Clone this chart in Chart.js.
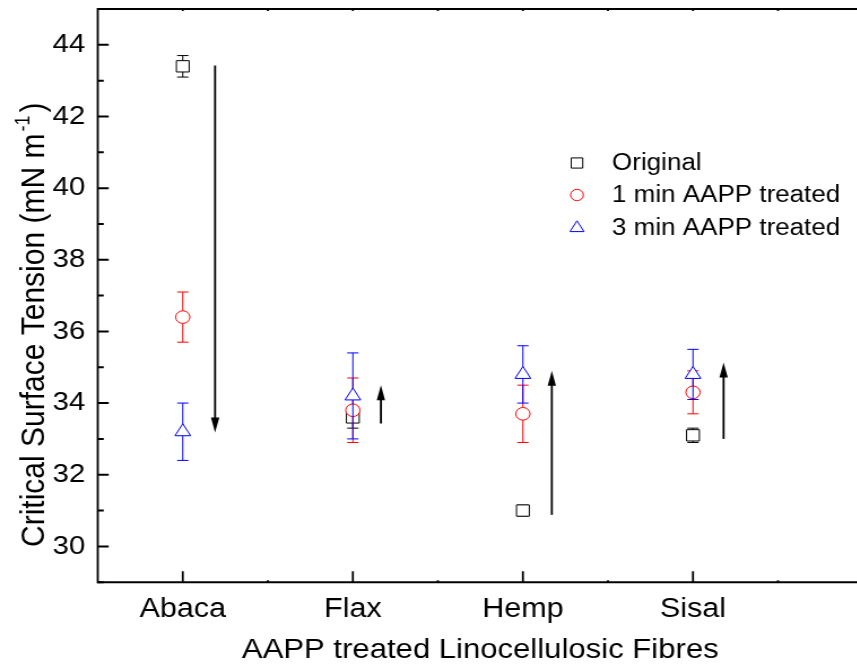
<!DOCTYPE html>
<html>
<head>
<meta charset="utf-8">
<script src="https://cdn.jsdelivr.net/npm/chart.js@4/dist/chart.umd.min.js"></script>
<style>
  html, body { margin: 0; padding: 0; overflow: hidden; background: #fff; }
  /* the source picture is stretched sideways, so is the canvas */
  #chart { transform: scaleX(1.13); transform-origin: 0 0; display: block; }
</style>
</head>
<body>
<canvas id="chart" width="860" height="666"></canvas>
<script>
const categories = ['Abaca', 'Flax', 'Hemp', 'Sisal'];
const seriesNames = ['Original', '1 min AAPP treated', '3 min AAPP treated'];

const original = [43.4, 33.6, 31.0, 33.1];
const originalErr = [0.3, 0.3, 0.15, 0.2];
const oneMin = [36.4, 33.8, 33.7, 34.3];
const oneMinErr = [0.7, 0.9, 0.8, 0.6];
const threeMin = [33.2, 34.2, 34.8, 34.8];
const threeMinErr = [0.8, 1.2, 0.8, 0.7];

// arrows: x position (category units), start and end value
const arrowX = [1.19, 2.165, 3.17, 4.18];
const arrowFrom = [43.42, 33.43, 30.88, 33.0];
const arrowTo = [33.18, 34.5, 34.9, 35.13];

const yTicks = [30, 32, 34, 36, 38, 40, 42, 44];
const yMinorTicks = [29, 31, 33, 35, 37, 39, 41, 43, 45];
const xMinorTicks = [1.5, 2.5, 3.5, 4.5];

const FONT = '"Liberation Sans", Arial, sans-serif';

function toPoints(values) {
    return values.map((v, i) => ({ x: i + 1, y: v }));
}

const styles = [
    { pointStyle: 'rect', radius: 8, color: '#000000' },
    { pointStyle: 'circle', radius: 6.3, color: '#ff0000' },
    { pointStyle: 'triangle', radius: 8, color: '#0000ff' },
];

const decorations = {
    id: 'decorations',
    beforeDatasetDraw(chart, args) {
        const ds = chart.data.datasets[args.index];
        const { ctx, scales: { x, y } } = chart;
        ctx.save();
        ctx.strokeStyle = ds.borderColor;
        ctx.lineWidth = 1;
        ds.data.forEach((pt, i) => {
            const px = x.getPixelForValue(pt.x);
            const top = y.getPixelForValue(pt.y + ds.errors[i]);
            const bot = y.getPixelForValue(pt.y - ds.errors[i]);
            ctx.beginPath();
            ctx.moveTo(px, top); ctx.lineTo(px, bot);
            ctx.moveTo(px - 5, top); ctx.lineTo(px + 5, top);
            ctx.moveTo(px - 5, bot); ctx.lineTo(px + 5, bot);
            ctx.stroke();
        });
        ctx.restore();
    },
    afterDatasetsDraw(chart) {
        const { ctx, chartArea: area, scales: { x, y } } = chart;
        ctx.save();
        ctx.strokeStyle = '#000';
        ctx.fillStyle = '#000';

        // arrows
        arrowX.forEach((ax, i) => {
            const px = x.getPixelForValue(ax);
            const y0 = y.getPixelForValue(arrowFrom[i]);
            const y1 = y.getPixelForValue(arrowTo[i]);
            const dir = y1 > y0 ? 1 : -1;
            ctx.lineWidth = 1.8;
            ctx.beginPath();
            ctx.moveTo(px, y0); ctx.lineTo(px, y1 - dir * 10);
            ctx.stroke();
            ctx.beginPath();
            ctx.moveTo(px, y1);
            ctx.lineTo(px - 3.7, y1 - dir * 15);
            ctx.lineTo(px + 3.7, y1 - dir * 15);
            ctx.closePath();
            ctx.fill();
        });

        // frame (no right edge inside the window)
        ctx.lineWidth = 2;
        ctx.beginPath();
        ctx.moveTo(area.left, area.top); ctx.lineTo(area.right, area.top);
        ctx.moveTo(area.left, area.bottom); ctx.lineTo(area.right, area.bottom);
        ctx.stroke();
        ctx.lineWidth = 1.8;
        ctx.beginPath();
        ctx.moveTo(area.left, area.top - 1); ctx.lineTo(area.left, area.bottom + 1);
        ctx.stroke();

        // inward ticks
        ctx.lineWidth = 2;
        ctx.beginPath();
        yTicks.forEach(v => {
            const py = y.getPixelForValue(v);
            ctx.moveTo(area.left, py); ctx.lineTo(area.left + 9.7, py);
        });
        yMinorTicks.forEach(v => {
            const py = y.getPixelForValue(v);
            ctx.moveTo(area.left, py); ctx.lineTo(area.left + 5.3, py);
        });
        ctx.stroke();
        ctx.lineWidth = 1.8;
        ctx.beginPath();
        categories.forEach((c, i) => {
            const px = x.getPixelForValue(i + 1);
            ctx.moveTo(px, area.bottom); ctx.lineTo(px, area.bottom - 11);
            ctx.moveTo(px, area.top); ctx.lineTo(px, area.top + 2);
        });
        xMinorTicks.forEach(v => {
            const px = x.getPixelForValue(v);
            ctx.moveTo(px, area.bottom); ctx.lineTo(px, area.bottom - 2);
            ctx.moveTo(px, area.top); ctx.lineTo(px, area.top + 2);
        });
        ctx.stroke();

        // legend
        const legendY = [163, 195, 228];
        chart.data.datasets.forEach((ds, i) => {
            ctx.fillStyle = '#fff';
            ctx.strokeStyle = ds.borderColor;
            ctx.lineWidth = 1;
            Chart.helpers.drawPoint(ctx, {
                pointStyle: ds.pointStyle, radius: ds.pointRadius * 0.9,
                borderWidth: 1, rotation: 0
            }, 510.6, legendY[i]);
            ctx.fillStyle = '#000';
            ctx.font = '23px ' + FONT;
            ctx.textAlign = 'left';
            ctx.textBaseline = 'middle';
            ctx.fillText(ds.label, 541.6, legendY[i] + 1);
        });

        // axis titles
        ctx.fillStyle = '#000';
        ctx.font = '27.5px ' + FONT;
        ctx.textAlign = 'center';
        ctx.textBaseline = 'alphabetic';
        ctx.fillText('AAPP treated Linocellulosic Fibres', 425, 657.5);

        ctx.translate(39.2, 547);
        ctx.rotate(-Math.PI / 2);
        ctx.textAlign = 'left';
        ctx.font = '30px ' + FONT;
        const t1 = 'Critical Surface Tension (mN m';
        ctx.fillText(t1, 0, 0);
        const w1 = ctx.measureText(t1).width;
        ctx.font = '18px ' + FONT;
        ctx.fillText('-1', w1 + 2, -13);
        const w2 = ctx.measureText('-1').width;
        ctx.font = '30px ' + FONT;
        ctx.fillText(')', w1 + w2 + 5, 0);
        ctx.restore();
    }
};

const seriesValues = [original, oneMin, threeMin];
const seriesErrors = [originalErr, oneMinErr, threeMinErr];

new Chart(document.getElementById('chart'), {
    type: 'scatter',
    data: {
        datasets: seriesValues.map((vals, i) => ({
            label: seriesNames[i],
            data: toPoints(vals),
            errors: seriesErrors[i],
            pointStyle: styles[i].pointStyle,
            pointRadius: styles[i].radius,
            pointHoverRadius: styles[i].radius,
            pointBorderWidth: 1,
            borderColor: styles[i].color,
            pointBorderColor: styles[i].color,
            pointBackgroundColor: '#ffffff',
            order: 3 - i,
        }))
    },
    options: {
        responsive: false,
        animation: false,
        events: [],
        layout: { padding: { top: 7.3, right: 21, left: 0, bottom: 0 } },
        scales: {
            x: {
                type: 'linear',
                min: 0.5,
                max: 5.5,
                grid: { display: false, drawTicks: false },
                border: { display: false },
                afterBuildTicks: scale => { scale.ticks = categories.map((c, i) => ({ value: i + 1 })); },
                afterFit: scale => {
                    scale.height = 666 - 582.2;
                    scale.paddingLeft = 0;
                    scale.paddingRight = 0;
                },
                ticks: {
                    padding: 11,
                    color: '#000',
                    font: { family: FONT, size: 27 },
                    callback: v => categories[v - 1] || '',
                },
            },
            y: {
                min: 29,
                max: 45,
                grid: { display: false, drawTicks: false },
                border: { display: false },
                afterBuildTicks: scale => { scale.ticks = yTicks.map(v => ({ value: v })); },
                afterFit: scale => {
                    scale.width = 86.5;
                    scale.paddingTop = 0;
                    scale.paddingBottom = 0;
                },
                ticks: {
                    padding: 11,
                    color: '#000',
                    font: { family: FONT, size: 26 },
                },
            },
        },
        plugins: {
            legend: { display: false },
            tooltip: { enabled: false },
        },
    },
    plugins: [decorations],
});
</script>
</body>
</html>
